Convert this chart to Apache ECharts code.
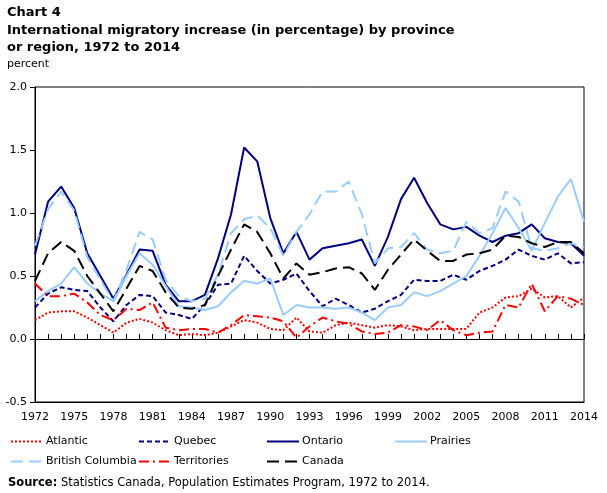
<!DOCTYPE html>
<html>
<head>
<meta charset="utf-8">
<script src="https://cdn.jsdelivr.net/npm/echarts@6/dist/echarts.min.js"></script>
<style>
  html, body { margin: 0; padding: 0; background: #fff; }
  #chart { width: 607px; height: 493px; }
</style>
</head>
<body>
<div id="chart"></div>
<script>
// years on the x axis
var years = [];
for (var y = 1972; y <= 2014; y++) years.push(String(y));

var yTicks = [-0.5, 0.0, 0.5, 1.0, 1.5, 2.0];

// values (percent)
var atlantic = [0.15,0.21,0.22,0.22,0.17,0.11,0.05,0.13,0.16,0.13,0.07,
  0.03,0.04,0.03,0.05,0.10,0.15,0.13,0.08,0.07,0.17,0.06,
  0.05,0.11,0.13,0.11,0.09,0.11,0.10,0.07,0.08,0.08,
  0.08,0.08,0.21,0.25,0.33,0.34,0.40,0.33,0.34,0.25,0.33];
var quebec = [0.25,0.36,0.41,0.39,0.38,0.25,0.14,0.27,0.35,0.34,0.21,
  0.19,0.16,0.27,0.43,0.44,0.66,0.54,0.44,0.47,0.52,0.38,
  0.26,0.32,0.27,0.21,0.24,0.30,0.35,0.47,0.46,0.46,
  0.51,0.47,0.54,0.58,0.63,0.71,0.66,0.63,0.68,0.60,0.61];
var ontario = [0.67,1.09,1.21,1.04,0.68,0.50,0.32,0.51,0.71,0.70,0.43,
  0.30,0.30,0.35,0.64,0.99,1.52,1.41,0.96,0.68,0.85,0.63,
  0.72,0.74,0.76,0.79,0.58,0.81,1.11,1.28,1.08,0.91,
  0.87,0.89,0.82,0.77,0.82,0.84,0.91,0.80,0.77,0.76,0.66];
var prairies = [0.30,0.38,0.44,0.57,0.44,0.36,0.30,0.50,0.68,0.59,0.42,
  0.26,0.25,0.23,0.26,0.37,0.46,0.44,0.48,0.19,0.27,0.25,
  0.25,0.24,0.25,0.21,0.15,0.25,0.27,0.37,0.34,0.38,
  0.44,0.50,0.66,0.84,1.04,0.88,0.70,0.92,1.13,1.27,0.93];
var britishColumbia = [0.74,1.03,1.17,1.02,0.65,0.47,0.30,0.55,0.85,0.79,0.47,
  0.34,0.30,0.32,0.51,0.84,0.95,0.98,0.88,0.66,0.85,0.99,
  1.17,1.17,1.25,0.99,0.60,0.72,0.73,0.84,0.71,0.68,
  0.70,0.93,0.84,0.88,1.17,1.09,0.72,0.70,0.72,0.76,0.73];
var territories = [0.44,0.34,0.34,0.36,0.29,0.19,0.15,0.24,0.23,0.29,0.09,
  0.07,0.08,0.08,0.05,0.11,0.19,0.18,0.17,0.14,0.01,0.10,
  0.17,0.14,0.12,0.06,0.04,0.05,0.11,0.10,0.07,0.15,
  0.07,0.03,0.05,0.06,0.27,0.25,0.44,0.22,0.34,0.32,0.27];
var canada = [0.46,0.68,0.77,0.70,0.50,0.36,0.22,0.40,0.58,0.54,0.37,
  0.25,0.24,0.27,0.50,0.71,0.91,0.85,0.68,0.48,0.60,0.51,
  0.53,0.56,0.57,0.52,0.39,0.55,0.67,0.79,0.70,0.62,
  0.62,0.67,0.68,0.71,0.82,0.81,0.76,0.73,0.77,0.77,0.68];

var FONT = 'DejaVu Sans';
var NAVY = '#000080', LIGHT = '#99ccff', RED = '#ff0000';

function line(name, data, color, type) {
  return {
    name: name,
    type: 'line',
    data: data,
    symbol: 'none',
    smooth: false,
    lineStyle: { color: color, width: 2, type: type },
    itemStyle: { color: color }
  };
}

// one legend box per item so the columns line up like the original
function legendAt(name, left, top) {
  return {
    data: [name],
    left: left,
    top: top,
    itemWidth: 32,
    itemHeight: 10,
    itemGap: 0,
    padding: 0,
    itemStyle: { opacity: 0 },
    textStyle: { fontFamily: FONT, fontSize: 11, color: '#000', padding: [0, 0, 0, -2] }
  };
}

var myChart = echarts.init(document.getElementById('chart'));

var option = {
  animation: false,
  backgroundColor: '#fff',
  title: [
    {
      text: 'Chart 4\nInternational migratory increase (in percentage) by province\nor region, 1972 to 2014',
      left: 7,
      top: 4,
      padding: 0,
      textStyle: { fontFamily: FONT, fontSize: 13, fontWeight: 'bold', color: '#000', lineHeight: 17.5 }
    },
    {
      text: 'percent',
      left: 7,
      top: 59,
      padding: 0,
      textStyle: { fontFamily: FONT, fontSize: 11, fontWeight: 'normal', color: '#000' }
    },
    {
      text: '{b|Source:} Statistics Canada, Population Estimates Program, 1972 to 2014.',
      left: 8,
      top: 477,
      padding: 0,
      textStyle: {
        fontFamily: FONT, fontSize: 11.5, fontWeight: 'normal', color: '#000',
        rich: { b: { fontFamily: FONT, fontSize: 11.5, fontWeight: 'bold', color: '#000' } }
      }
    }
  ],
  legend: [
    legendAt('Atlantic', 10, 436),
    legendAt('Quebec', 138, 436),
    legendAt('Ontario', 266, 436),
    legendAt('Prairies', 394, 436),
    legendAt('British Columbia', 10, 456),
    legendAt('Territories', 138, 456),
    legendAt('Canada', 266, 456)
  ],
  grid: {
    left: 35,
    right: 23,
    top: 87,
    bottom: 91,
    show: true,
    borderColor: '#000',
    borderWidth: 1,
    backgroundColor: 'transparent'
  },
  xAxis: [
    {
      type: 'category',
      data: years,
      boundaryGap: false,
      position: 'bottom',
      axisLine: { onZero: false, lineStyle: { color: '#000', width: 1 } },
      axisTick: { show: false },
      axisLabel: { interval: 2, margin: 10, fontFamily: FONT, fontSize: 11, color: '#000' },
      splitLine: { show: false }
    },
    {
      type: 'category',
      data: years,
      boundaryGap: false,
      position: 'bottom',
      axisLine: { onZero: true, lineStyle: { color: '#000', width: 1 } },
      axisTick: { show: true, inside: true, length: 5, interval: 0, lineStyle: { color: '#000' } },
      axisLabel: { show: false },
      splitLine: { show: false }
    }
  ],
  yAxis: {
    type: 'value',
    min: yTicks[0],
    max: yTicks[yTicks.length - 1],
    interval: 0.5,
    axisLine: { show: true, lineStyle: { color: '#000', width: 1 } },
    axisTick: { show: true, length: 5, lineStyle: { color: '#000' } },
    axisLabel: {
      margin: 8, fontFamily: FONT, fontSize: 11, color: '#000',
      formatter: function (v) { return v.toFixed(1); }
    },
    splitLine: { show: false }
  },
  series: [
    line('Atlantic', atlantic, RED, [2, 2]),
    line('Quebec', quebec, NAVY, [5, 3]),
    line('Ontario', ontario, NAVY, 'solid'),
    line('Prairies', prairies, LIGHT, 'solid'),
    line('British Columbia', britishColumbia, LIGHT, [12, 6]),
    line('Territories', territories, RED, [10, 4, 2, 4]),
    line('Canada', canada, '#000', [12, 6])
  ]
};
myChart.setOption(option);
</script>
</body>
</html>
